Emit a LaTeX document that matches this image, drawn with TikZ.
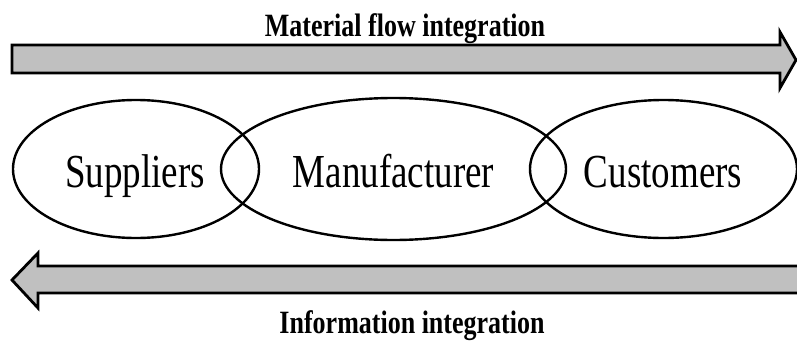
\documentclass[tikz,border=0pt]{standalone}
\usepackage{fontspec}
\usepackage{graphicx}
\setmainfont{Liberation Serif}
\usetikzlibrary{shapes.geometric}
\definecolor{arrowgray}{HTML}{C0C0C0}
\newcommand{\tallbig}[1]{\scalebox{1}[1.28]{\fontsize{37}{40}\selectfont #1}}
\newcommand{\tallbold}[1]{\scalebox{1}[1.25]{\fontsize{26}{28}\selectfont\bfseries #1}}
\tikzset{
  flowarrow/.style={draw=black, fill=arrowgray, line width=2.8pt, line join=miter},
  party/.style={draw=black, ellipse, line width=2.4pt, inner sep=0pt},
  partylabel/.style={anchor=base, inner sep=0pt},
  flowlabel/.style={anchor=base, inner sep=0pt}
}
\begin{document}
\begin{tikzpicture}[x=1pt, y=-1pt]
\useasboundingbox (0,0) rectangle (797,340);
\clip (0,0) rectangle (797,340);
% top arrow (material flow)
\draw[flowarrow] (12,45) -- (780,45) -- (780,32) -- (796,60) -- (780,88) -- (780,73) -- (12,73) -- cycle;
% bottom arrow (information)
\draw[flowarrow] (805,266) -- (38,266) -- (38,253) -- (12,280) -- (38,308) -- (38,293) -- (805,293) -- cycle;
% ellipses
\node[party, minimum width=246pt, minimum height=138pt] (sup) at (136,169) {};
\node[party, minimum width=345pt, minimum height=142pt] (man) at (393.5,169) {};
\node[party, minimum width=267pt, minimum height=138pt] (cus) at (663.5,169) {};
\node[partylabel] (suptext) at (135,187) {\tallbig{Suppliers}};
\node[partylabel] (mantext) at (393.5,187) {\tallbig{Manufacturer}};
\node[partylabel] (custext) at (663,187) {\tallbig{Customers}};
% labels
\node[flowlabel] (mat) at (405,36) {\tallbold{Material flow integration}};
\node[flowlabel] (inf) at (412,333) {\tallbold{Information integration}};
\end{tikzpicture}
\end{document}
